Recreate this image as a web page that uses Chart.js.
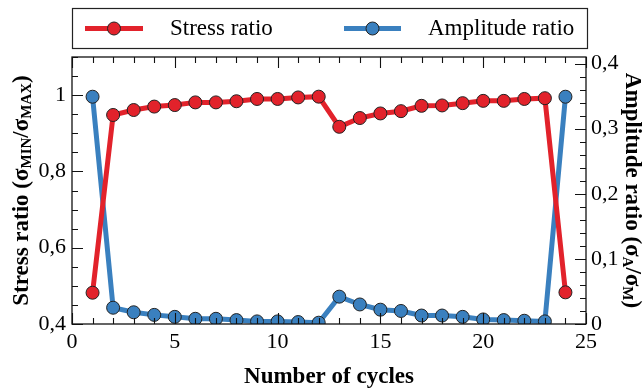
<!DOCTYPE html>
<html>
<head>
<meta charset="utf-8">
<script src="https://cdn.jsdelivr.net/npm/chart.js@4.4.0/dist/chart.umd.min.js"></script>
<style>
  html, body { margin: 0; padding: 0; background: #fff; }
  #wrap { width: 643px; height: 388px; }
</style>
</head>
<body>
<div id="wrap"><canvas id="cyclesChart" width="643" height="388"></canvas></div>
<script>
// cycle number and the two measured ratios per cycle
const cycles = [1, 2, 3, 4, 5, 6, 7, 8, 9, 10, 11, 12, 13, 14, 15, 16, 17, 18, 19, 20, 21, 22, 23, 24];
const stressRatio = [0.482, 0.948, 0.961, 0.970, 0.974, 0.981, 0.981, 0.984, 0.990, 0.990, 0.994, 0.996,
                     0.917, 0.940, 0.952, 0.958, 0.972, 0.973, 0.979, 0.985, 0.985, 0.990, 0.992, 0.483];
const amplitudeRatio = [0.349, 0.025, 0.018, 0.014, 0.011, 0.008, 0.008, 0.006, 0.004, 0.004, 0.003, 0.002,
                        0.042, 0.030, 0.022, 0.020, 0.013, 0.013, 0.011, 0.007, 0.006, 0.005, 0.004, 0.349];

const xTicks = [0, 5, 10, 15, 20, 25];
const xTickLabels = ['0', '5', '10', '15', '20', '25'];
const stressTicks = [0.4, 0.6, 0.8, 1];
const stressTickLabels = ['0,4', '0,6', '0,8', '1'];
const ampTicks = [0, 0.1, 0.2, 0.3, 0.4];
const ampTickLabels = ['0', '0,1', '0,2', '0,3', '0,4'];

const RED = '#e2222b';
const BLUE = '#3a80bf';
const SERIF = "'Liberation Serif', 'DejaVu Serif', serif";

function near(a, b) { return Math.abs(a - b) < 1e-6; }
function labelFor(values, labels) {
  return v => {
    const i = values.findIndex(t => near(t, v));
    return i >= 0 ? labels[i] : '';
  };
}
// evenly spaced tick values from first to last (minor + major)
function tickRun(first, last, step) {
  const out = [];
  const n = Math.round((last - first) / step);
  for (let k = 0; k <= n; k++) out.push({ value: +(first + k * step).toFixed(6) });
  return out;
}

// inward ticks on all four sides plus the frame
const frameTicks = {
  id: 'frameTicks',
  afterDatasetsDraw(chart) {
    const { ctx, chartArea: a, scales } = chart;
    ctx.save();
    ctx.strokeStyle = '#111';
    ctx.lineWidth = 1.3;
    ctx.strokeRect(a.left, a.top, a.right - a.left, a.bottom - a.top);
    ctx.lineWidth = 1.1;
    ctx.beginPath();
    scales.x.ticks.forEach(t => {
      const px = Math.round(scales.x.getPixelForValue(t.value)) + 0.5;
      const len = xTicks.some(m => near(m, t.value)) ? 11 : 6;
      ctx.moveTo(px, a.bottom); ctx.lineTo(px, a.bottom - len);
      ctx.moveTo(px, a.top); ctx.lineTo(px, a.top + len);
    });
    scales.y.ticks.forEach(t => {
      const py = Math.round(scales.y.getPixelForValue(t.value)) + 0.5;
      const len = stressTicks.some(m => near(m, t.value)) ? 11 : 6;
      ctx.moveTo(a.left, py); ctx.lineTo(a.left + len, py);
    });
    scales.y1.ticks.forEach(t => {
      const py = Math.round(scales.y1.getPixelForValue(t.value)) + 0.5;
      const len = ampTicks.some(m => near(m, t.value)) ? 11 : 6;
      ctx.moveTo(a.right, py); ctx.lineTo(a.right - len, py);
    });
    ctx.stroke();
    ctx.restore();
  }
};

// text with subscripts, centred on the current origin
function richText(ctx, parts) {
  let w = 0;
  parts.forEach(p => { ctx.font = p.font; p.w = ctx.measureText(p.t).width; w += p.w; });
  let x = -w / 2;
  ctx.textBaseline = 'middle';
  ctx.textAlign = 'left';
  parts.forEach(p => { ctx.font = p.font; ctx.fillText(p.t, x, p.dy || 0); x += p.w; });
}

const titlesAndLegend = {
  id: 'titlesAndLegend',
  afterDraw(chart) {
    const { ctx, chartArea: a } = chart;
    const main = 'bold 23px ' + SERIF;
    const sub = 'bold 15px ' + SERIF;
    const midY = (a.top + a.bottom) / 2;
    ctx.save();
    ctx.fillStyle = '#000';

    ctx.save();
    ctx.translate((a.left + a.right) / 2, 377);
    richText(ctx, [{ t: 'Number of cycles', font: main }]);
    ctx.restore();

    ctx.save();
    ctx.translate(22, midY);
    ctx.rotate(-Math.PI / 2);
    richText(ctx, [
      { t: 'Stress ratio (σ', font: main },
      { t: 'MIN', font: sub, dy: 5 },
      { t: '/σ', font: main },
      { t: 'MAX', font: sub, dy: 5 },
      { t: ')', font: main }
    ]);
    ctx.restore();

    ctx.save();
    ctx.translate(632, midY);
    ctx.rotate(Math.PI / 2);
    richText(ctx, [
      { t: 'Amplitude ratio (σ', font: main },
      { t: 'A', font: sub, dy: 5 },
      { t: '/σ', font: main },
      { t: 'M', font: sub, dy: 5 },
      { t: ')', font: main }
    ]);
    ctx.restore();

    // legend box
    ctx.strokeStyle = '#222';
    ctx.lineWidth = 1.2;
    ctx.strokeRect(72.5, 8.5, 515, 40);
    const entries = [
      { x0: 85, x1: 143, color: RED, text: 'Stress ratio', tx: 170 },
      { x0: 344, x1: 401, color: BLUE, text: 'Amplitude ratio', tx: 428 }
    ];
    entries.forEach(e => {
      ctx.strokeStyle = e.color;
      ctx.lineWidth = 5;
      ctx.beginPath();
      ctx.moveTo(e.x0, 28.5); ctx.lineTo(e.x1, 28.5);
      ctx.stroke();
      ctx.beginPath();
      ctx.arc((e.x0 + e.x1) / 2, 28.5, 6.5, 0, Math.PI * 2);
      ctx.fillStyle = e.color;
      ctx.fill();
      ctx.lineWidth = 1;
      ctx.strokeStyle = '#222';
      ctx.stroke();
      ctx.fillStyle = '#000';
      ctx.font = '23px ' + SERIF;
      ctx.textAlign = 'left';
      ctx.textBaseline = 'middle';
      ctx.fillText(e.text, e.tx, 29);
    });
    ctx.restore();
  }
};

const tickFont = { family: SERIF, size: 22 };

new Chart(document.getElementById('cyclesChart').getContext('2d'), {
  type: 'line',
  data: {
    datasets: [
      {
        label: 'Stress ratio',
        data: cycles.map((c, i) => ({ x: c, y: stressRatio[i] })),
        yAxisID: 'y',
        borderColor: RED,
        backgroundColor: RED,
        pointBackgroundColor: RED,
        pointBorderColor: '#222',
        pointBorderWidth: 1,
        pointRadius: 6.5,
        borderWidth: 5,
        tension: 0
      },
      {
        label: 'Amplitude ratio',
        data: cycles.map((c, i) => ({ x: c, y: amplitudeRatio[i] })),
        yAxisID: 'y1',
        borderColor: BLUE,
        backgroundColor: BLUE,
        pointBackgroundColor: BLUE,
        pointBorderColor: '#222',
        pointBorderWidth: 1,
        pointRadius: 6.5,
        borderWidth: 5,
        tension: 0
      }
    ]
  },
  options: {
    responsive: false,
    animation: false,
    devicePixelRatio: 1,
    layout: { padding: { top: 57, left: 0, right: 0, bottom: 0 } },
    plugins: { legend: { display: false }, tooltip: { enabled: false } },
    scales: {
      x: {
        type: 'linear',
        min: 0,
        max: 25,
        afterFit: s => { s.height = 64; },
        afterBuildTicks: s => { s.ticks = tickRun(0, 25, 1); },
        grid: { display: false, drawTicks: false },
        border: { display: false },
        ticks: {
          autoSkip: false,
          maxRotation: 0,
          padding: 5,
          color: '#000',
          font: tickFont,
          callback: labelFor(xTicks, xTickLabels)
        }
      },
      y: {
        position: 'left',
        min: 0.4,
        max: 1.1,
        afterFit: s => { s.width = 72; },
        afterBuildTicks: s => { s.ticks = tickRun(0.4, 1.1, 0.05); },
        grid: { display: false, drawTicks: false },
        border: { display: false },
        ticks: {
          autoSkip: false,
          padding: 6,
          color: '#000',
          font: tickFont,
          callback: labelFor(stressTicks, stressTickLabels)
        }
      },
      y1: {
        position: 'right',
        min: 0,
        max: 0.41,
        afterFit: s => { s.width = 57; },
        afterBuildTicks: s => { s.ticks = tickRun(0, 0.4, 0.02); },
        grid: { display: false, drawTicks: false },
        border: { display: false },
        ticks: {
          autoSkip: false,
          padding: 5,
          color: '#000',
          font: tickFont,
          callback: labelFor(ampTicks, ampTickLabels)
        }
      }
    }
  },
  plugins: [frameTicks, titlesAndLegend]
});
</script>
</body>
</html>
